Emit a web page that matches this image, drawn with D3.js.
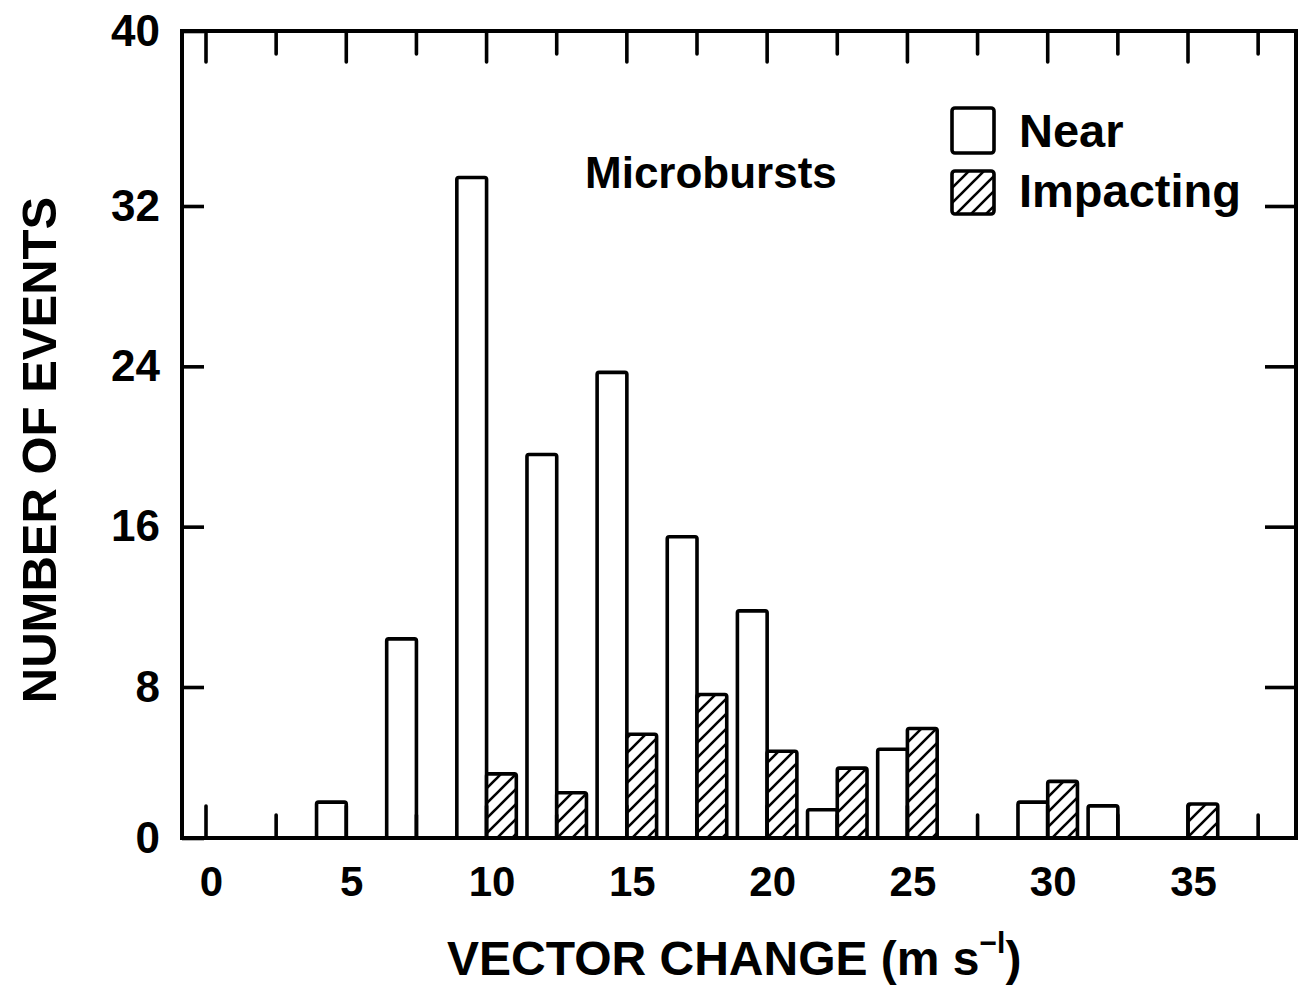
<!DOCTYPE html>
<html>
<head>
<meta charset="utf-8">
<script src="https://cdn.jsdelivr.net/npm/d3@7"></script>
<style>
  html, body { margin: 0; padding: 0; background: #fff; }
  svg { display: block; }
  text { font-family: "Liberation Sans", Arial, sans-serif; fill: #000; }
</style>
</head>
<body>
<svg id="chart" width="1298" height="990"></svg>
<script>
// ---- data ----
const bins = [2.5, 5, 7.5, 10, 12.5, 15, 17.5, 20, 22.5, 25, 27.5, 30, 32.5, 35];
const nearValues = [0, 1.9, 10.4, 33.3, 19.6, 23.7, 15.5, 11.8, 1.5, 4.7, 0, 1.9, 1.7, 0];
const impactingValues = [0, 0, 0, 3.4, 2.4, 5.5, 7.6, 4.6, 3.7, 5.8, 0, 3.0, 0, 1.8];
const xTickLabels = [0, 5, 10, 15, 20, 25, 30, 35];
const yTickLabels = [0, 8, 16, 24, 32, 40];
const minorTicks = [0, 2.5, 5, 7.5, 10, 12.5, 15, 17.5, 20, 22.5, 25, 27.5, 30, 32.5, 35, 37.5];
const seriesNames = ["Near", "Impacting"];
const chartTitle = "Microbursts";
const xTitle = "VECTOR CHANGE (m s";
const yTitle = "NUMBER OF EVENTS";

(function () {
// ---- layout ----
const svg = d3.select("#chart");
const pLeft = 182, pRight = 1296, pTop = 31, pBottom = 838;
const x = d3.scaleLinear().domain([0, 35]).range([206, 1188]);
// hand-drawn axis spacing: slightly non-uniform
const y = d3.scaleLinear().domain([0, 8, 32, 40]).range([838, 687, 206, 31]);
const barW = 1.06; // in m/s units

// hatch pattern
const defs = svg.append("defs");
const pat = defs.append("pattern")
  .attr("id", "hatch").attr("patternUnits", "userSpaceOnUse")
  .attr("width", 15).attr("height", 15);
pat.append("rect").attr("width", 15).attr("height", 15).attr("fill", "#fff");
pat.append("path")
  .attr("d", "M-4,4 L4,-4 M0,15 L15,0 M11,19 L19,11")
  .attr("stroke", "#000").attr("stroke-width", 2.6).attr("stroke-linecap", "round");

const data = bins.map((b, i) => ({ bin: b, near: nearValues[i], imp: impactingValues[i] }));

// bars
const gBars = svg.append("g");
gBars.selectAll("rect.near").data(data.filter(d => d.near > 0)).join("rect")
  .attr("class", "near")
  .attr("x", d => x(d.bin - barW)).attr("width", d => x(d.bin) - x(d.bin - barW))
  .attr("y", d => y(d.near)).attr("height", d => y(0) - y(d.near))
  .attr("rx", 2)
  .attr("fill", "#fff").attr("stroke", "#000").attr("stroke-width", 3.6).attr("stroke-linejoin", "round");
gBars.selectAll("rect.imp").data(data.filter(d => d.imp > 0)).join("rect")
  .attr("class", "imp")
  .attr("x", d => x(d.bin)).attr("width", d => x(d.bin + barW) - x(d.bin))
  .attr("y", d => y(d.imp)).attr("height", d => y(0) - y(d.imp))
  .attr("rx", 2)
  .attr("fill", "url(#hatch)").attr("stroke", "#000").attr("stroke-width", 3.6).attr("stroke-linejoin", "round");

// frame
svg.append("rect")
  .attr("x", pLeft).attr("y", pTop).attr("width", pRight - pLeft).attr("height", pBottom - pTop)
  .attr("fill", "none").attr("stroke", "#000").attr("stroke-width", 4);

// top & bottom ticks every 2.5
const isMajor = v => Math.abs(v % 5) < 1e-6;
svg.append("g").selectAll("line").data(minorTicks).join("line")
  .attr("x1", d => x(d)).attr("x2", d => x(d))
  .attr("y1", pTop).attr("y2", d => pTop + (isMajor(d) ? 31 : 23))
  .attr("stroke", "#000").attr("stroke-width", 3.6).attr("stroke-linecap", "round");
svg.append("g").selectAll("line").data(minorTicks).join("line")
  .attr("x1", d => x(d)).attr("x2", d => x(d))
  .attr("y1", pBottom).attr("y2", d => pBottom - (isMajor(d) ? 32 : 23))
  .attr("stroke", "#000").attr("stroke-width", 3.6).attr("stroke-linecap", "round");

// x axis labels
const xAxis = svg.append("g").attr("transform", `translate(0,${pBottom})`)
  .call(d3.axisBottom(x).tickValues(xTickLabels).tickSize(0).tickPadding(28).tickFormat(d3.format("d")));
xAxis.select(".domain").remove();
xAxis.selectAll("text").attr("font-size", 42).attr("font-weight", "bold")
  .attr("font-family", "'Liberation Sans', Arial, sans-serif").attr("dx", 5);

// y axis left
const yAxisL = svg.append("g").attr("transform", `translate(${pLeft},0)`)
  .call(d3.axisLeft(y).tickValues(yTickLabels).tickSizeInner(-22).tickSizeOuter(0).tickPadding(22).tickFormat(d3.format("d")));
yAxisL.select(".domain").remove();
yAxisL.selectAll("line").attr("stroke-width", 3.6);
yAxisL.selectAll("text").attr("font-size", 44).attr("font-weight", "bold")
  .attr("font-family", "'Liberation Sans', Arial, sans-serif");

// y axis right (ticks only)
const yAxisR = svg.append("g").attr("transform", `translate(${pRight},0)`)
  .call(d3.axisRight(y).tickValues(yTickLabels.filter(v => v > 0 && v < 40)).tickSizeInner(-31).tickSizeOuter(0).tickFormat(""));
yAxisR.select(".domain").remove();
yAxisR.selectAll("line").attr("stroke-width", 3.6);

// chart title
svg.append("text").attr("x", 585).attr("y", 188)
  .attr("font-size", 44).attr("font-weight", "bold").text(chartTitle);

// legend
const lg = svg.append("g");
lg.append("rect").attr("x", 952).attr("y", 108).attr("width", 42).attr("height", 45).attr("rx", 3)
  .attr("fill", "#fff").attr("stroke", "#000").attr("stroke-width", 3.6);
lg.append("rect").attr("x", 952).attr("y", 171).attr("width", 42).attr("height", 43).attr("rx", 3)
  .attr("fill", "url(#hatch)").attr("stroke", "#000").attr("stroke-width", 3.6);
lg.append("text").attr("x", 1019).attr("y", 147).attr("font-size", 47).attr("font-weight", "bold").text(seriesNames[0]);
lg.append("text").attr("x", 1019).attr("y", 207).attr("font-size", 47).attr("font-weight", "bold").text(seriesNames[1]);

// x title
const xt = svg.append("text").attr("x", 447).attr("y", 975)
  .attr("font-size", 48).attr("font-weight", "bold");
xt.append("tspan").text(xTitle);
xt.append("tspan").attr("font-size", 30).attr("dy", -22).text("\u2212l");
xt.append("tspan").attr("dy", 22).text(")");

// y title
svg.append("text").attr("transform", "translate(56,450) rotate(-90)")
  .attr("text-anchor", "middle").attr("font-size", 49).attr("font-weight", "bold").text(yTitle);
})();
</script>
</body>
</html>
